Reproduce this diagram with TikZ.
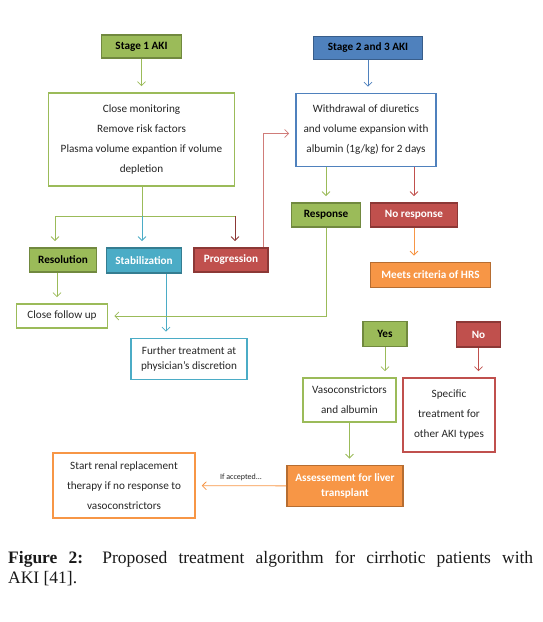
\documentclass[tikz,border=0pt]{standalone}
\usepackage{fontspec}
\setmainfont{Carlito}
\newfontfamily\capfont{Liberation Serif}
\usetikzlibrary{positioning,arrows.meta,calc}
\definecolor{okgreen}{HTML}{9BBB59}
\definecolor{okgreenD}{HTML}{71893F}
\definecolor{stblue}{HTML}{4F81BD}
\definecolor{stblueD}{HTML}{385D8A}
\definecolor{aqua}{HTML}{4BACC6}
\definecolor{aquaD}{HTML}{357D91}
\definecolor{badred}{HTML}{C0504D}
\definecolor{badredD}{HTML}{8C3836}
\definecolor{hrsorange}{HTML}{F79646}
\definecolor{hrsorangeD}{HTML}{B66D31}

\begin{document}
\begin{tikzpicture}[x=1pt, y=-1pt,
    font=\fontsize{11.2}{20}\selectfont,
    box/.style={draw, line width=1.6pt, fill=white, align=center, inner sep=0pt, text=black!85},
    tag/.style={draw, line width=1.8pt, align=center, inner sep=0pt,
                font=\fontsize{11.2}{13}\selectfont\bfseries},
    flow/.style={-{Straight Barb[length=4pt,width=8pt]}, line width=0.8pt, shorten >=6pt},
    link/.style={line width=0.8pt},
  ]
  \useasboundingbox (0,0) rectangle (542,622);
  % left branch
  \node[tag, fill=okgreen, draw=okgreenD, minimum width=80, minimum height=23] (stage1) at (141.5,46.5) {Stage 1 AKI};
  \node[box, draw=okgreen, minimum width=186, minimum height=93] (monitor) at (141.5,139.5)
    {Close monitoring\\Remove risk factors\\Plasma volume expantion if volume\\depletion};
  \node[tag, fill=okgreen, draw=okgreenD, minimum width=67, minimum height=24] (res) at (63,260) {Resolution};
  \node[tag, fill=aqua, draw=aquaD, text=white, minimum width=75, minimum height=25] (stab) at (144,260.5) {Stabilization};
  \node[tag, fill=badred, draw=badredD, text=white, minimum width=74, minimum height=24] (prog) at (231,260) {Progression};
  \node[box, draw=okgreen, minimum width=91, minimum height=24] (follow) at (62,316) {Close follow up};
  \node[box, draw=aqua, minimum width=116, minimum height=41, font=\fontsize{11.2}{15}\selectfont] (further) at (189,359)
    {Further treatment at\\physician's discretion};
  % right branch
  \node[tag, fill=stblue, draw=stblueD, minimum width=109, minimum height=23] (stage2) at (368,48) {Stage 2 and 3 AKI};
  \node[box, draw=stblue, minimum width=140, minimum height=73] (withdraw) at (366,130)
    {Withdrawal of diuretics\\and volume expansion with\\albumin (1g/kg) for 2 days};
  \node[tag, fill=okgreen, draw=okgreenD, minimum width=69, minimum height=24] (resp) at (326,215) {Response};
  \node[tag, fill=badred, draw=badredD, text=white, minimum width=87, minimum height=24] (noresp) at (414,215) {No response};
  \node[tag, fill=hrsorange, draw=hrsorangeD, text=white, minimum width=120, minimum height=25] (hrs) at (430.5,275) {Meets criteria of HRS};
  \node[tag, fill=okgreen, draw=okgreenD, minimum width=44, minimum height=25] (yes) at (385,334) {Yes};
  \node[tag, fill=badred, draw=badredD, text=white, minimum width=44, minimum height=25] (no) at (478.5,334.5) {No};
  \node[box, draw=okgreen, minimum width=93, minimum height=44] (vaso) at (349.5,400) {Vasoconstrictors\\and albumin};
  \node[box, draw=badred, minimum width=92, minimum height=74] (specific) at (449,415)
    {Specific\\treatment for\\other AKI types};
  \node[tag, fill=hrsorange, draw=hrsorangeD, text=white, minimum width=116, minimum height=41,
        font=\fontsize{11.2}{15}\selectfont\bfseries] (assess) at (345,486) {Assessement for liver\\transplant};
  \node[box, draw=hrsorange, minimum width=142, minimum height=65] (renal) at (124,485.5)
    {Start renal replacement\\therapy if no response to\\vasoconstrictors};
  % caption
  \node[anchor=base west, inner sep=0pt, text=black!90, font=\capfont\fontsize{17.5}{20}\selectfont] (cap1) at (8,563)
    {\makebox[525pt][s]{\textbf{Figure 2:} Proposed treatment algorithm for cirrhotic patients with}};
  \node[anchor=base west, inner sep=0pt, text=black!90, font=\capfont\fontsize{17.5}{20}\selectfont] (cap2) at (8,583) {AKI [41].};

  % connectors
  \coordinate (fork) at (142,216);
  \draw[flow, okgreen] (stage1) -- (monitor);
  \draw[link, okgreen] (monitor.south -| fork) -- (fork);
  \draw[link, okgreen] ([xshift=-8pt]res.north |- fork) -- ([xshift=4pt]prog.north |- fork);
  \draw[flow, okgreen] ([xshift=-8pt]res.north |- fork) -- ([xshift=-8pt]res.north);
  \draw[flow, aqua] (fork) -- (fork |- stab.north);
  \draw[flow, badredD] ([xshift=4pt]prog.north |- fork) -- ([xshift=4pt]prog.north);
  \draw[flow, badred!75] ([xshift=-6pt]prog.north east) |- ([yshift=-3.5pt]withdraw.west);
  \draw[flow, okgreen] ([xshift=-6pt]res.south) -- ([xshift=-6pt]res.south |- follow.north);
  \draw[flow, aqua] ([xshift=22pt]stab.south) -- ([xshift=22pt]stab.south |- further.north);
  \draw[flow, stblue] (stage2) -- (stage2 |- withdraw.north);
  \draw[flow, okgreen] (withdraw.south -| resp) -- (resp);
  \draw[flow, badred] (withdraw.south -| noresp) -- (noresp);
  \draw[flow, hrsorange] (noresp) -- (noresp |- hrs.north);
  \draw[flow, okgreen] (resp) |- (follow);
  \draw[flow, okgreen] (yes) -- (yes |- vaso.north);
  \draw[flow, badred] (no) -- (no |- specific.north);
  \draw[flow, okgreen] (vaso) -- (vaso |- assess.north);
  \draw[flow, hrsorange] (assess) -- node[above=1pt, font=\fontsize{8}{9}\selectfont, text=black!85] (accepted) {If accepted...} (renal);
\end{tikzpicture}
\end{document}
